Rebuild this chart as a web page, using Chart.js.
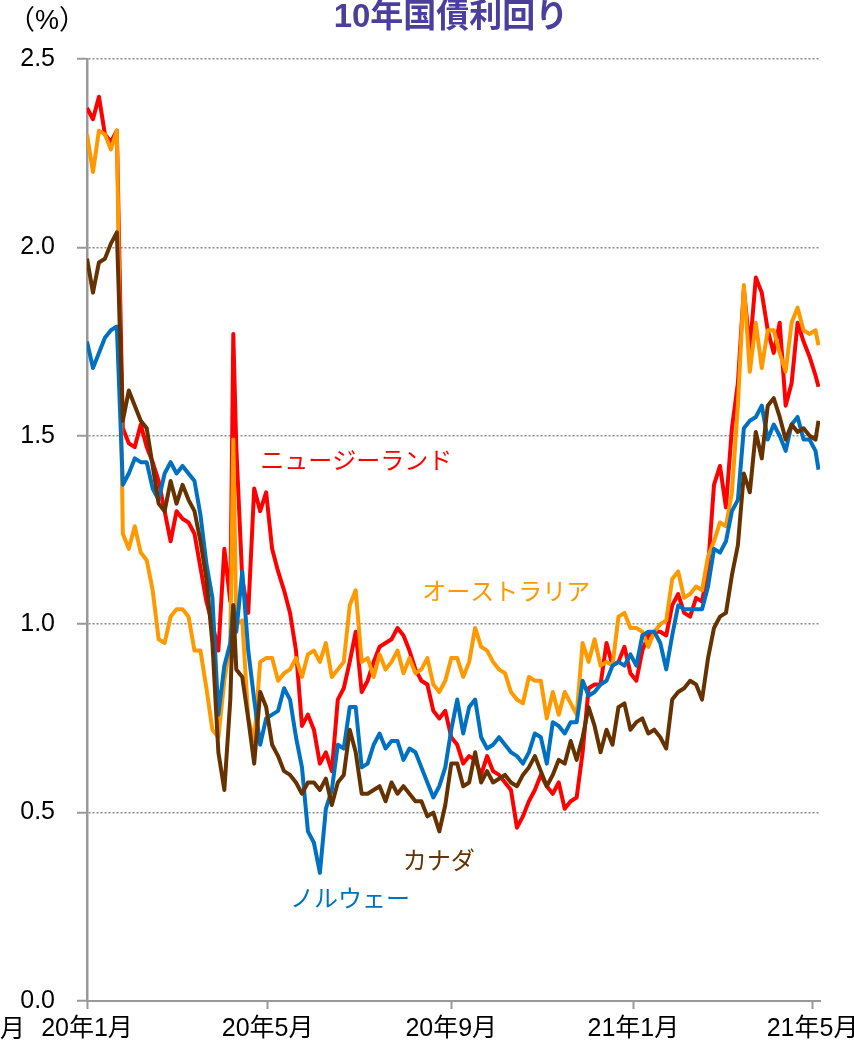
<!DOCTYPE html>
<html lang="ja">
<head>
  <meta charset="UTF-8">
  <title>10年国債利回り</title>
  <script src="https://cdn.jsdelivr.net/npm/chart.js@4.4.1/dist/chart.umd.min.js"></script>
  <style>
    body {
      margin: 0;
      padding: 0;
      background-color: #ffffff;
    }
    canvas {
      display: block;
    }
  </style>
</head>
<body>
  <canvas id="yieldChart" width="854" height="1047"></canvas>

  <script>
    // days counted from 2020-01-01
    const days = [
      0, 4, 8, 12, 16, 20, 24, 28, 32, 36,
      40, 44, 48, 52, 56, 60, 64, 68, 72, 76,
      80, 84, 88, 92, 96, 98, 100, 104, 108, 112,
      116, 120, 124, 128, 132, 136, 140, 144, 148, 152,
      156, 160, 164, 168, 172, 176, 180, 184, 188, 192,
      196, 200, 204, 208, 212, 216, 220, 224, 228, 232,
      236, 240, 244, 248, 252, 256, 260, 264, 268, 272,
      276, 280, 284, 288, 292, 296, 300, 304, 308, 312,
      316, 320, 324, 328, 332, 336, 340, 344, 348, 352,
      356, 360, 364, 368, 372, 376, 380, 384, 388, 392,
      396, 400, 404, 408, 412, 416, 420, 424, 428, 432,
      436, 440, 444, 448, 452, 456, 460, 464, 468, 472,
      476, 480, 484, 488, 490
    ];

    const newZealand = [
      2.37, 2.34, 2.40, 2.30, 2.28, 2.31, 1.52, 1.48, 1.47, 1.53,
      1.47, 1.43, 1.38, 1.30, 1.22, 1.30, 1.28, 1.27, 1.24, 1.15,
      1.06, 1.00, 0.93, 1.20, 1.06, 1.77, 1.47, 1.12, 1.03, 1.36,
      1.30, 1.35, 1.20, 1.14, 1.09, 1.03, 0.93, 0.73, 0.76, 0.72,
      0.63, 0.66, 0.61, 0.80, 0.83, 0.90, 0.98, 0.82, 0.85, 0.90,
      0.94, 0.95, 0.96, 0.99, 0.97, 0.93, 0.88, 0.85, 0.84, 0.77,
      0.75, 0.77, 0.70, 0.68, 0.63, 0.65, 0.64, 0.60, 0.65, 0.61,
      0.60, 0.58, 0.56, 0.46, 0.49, 0.53, 0.56, 0.60, 0.57, 0.55,
      0.58, 0.51, 0.53, 0.54, 0.66, 0.83, 0.84, 0.84, 0.95, 0.89,
      0.90, 0.94, 0.87, 0.85, 0.93, 0.97, 0.98, 0.98, 0.97, 1.05,
      1.08, 1.03, 1.02, 1.07, 1.06, 1.15, 1.37, 1.42, 1.31, 1.52,
      1.64, 1.89, 1.73, 1.92, 1.88, 1.78, 1.72, 1.80, 1.58, 1.64,
      1.80, 1.75, 1.71, 1.66, 1.63
    ];

    const australia = [
      2.30, 2.20, 2.31, 2.30, 2.26, 2.31, 1.24, 1.20, 1.26, 1.19,
      1.17, 1.09, 0.96, 0.95, 1.02, 1.04, 1.04, 1.02, 0.93, 0.93,
      0.83, 0.72, 0.70, 0.85, 0.95, 1.49, 1.00, 1.01, 0.75, 0.69,
      0.90, 0.91, 0.91, 0.85, 0.87, 0.88, 0.91, 0.86, 0.92, 0.93,
      0.90, 0.95, 0.86, 0.88, 0.90, 1.05, 1.09, 0.90, 0.91, 0.86,
      0.92, 0.88, 0.90, 0.93, 0.87, 0.91, 0.87, 0.88, 0.91, 0.84,
      0.82, 0.85, 0.91, 0.91, 0.86, 0.90, 0.99, 0.94, 0.93, 0.90,
      0.88, 0.87, 0.82, 0.80, 0.79, 0.86, 0.85, 0.85, 0.75, 0.82,
      0.76, 0.82, 0.79, 0.76, 0.95, 0.90, 0.96, 0.89, 0.90, 0.89,
      1.02, 1.03, 0.99, 0.99, 0.98, 0.94, 0.98, 1.00, 1.01, 1.12,
      1.14, 1.07, 1.08, 1.10, 1.09, 1.18, 1.22, 1.27, 1.26, 1.35,
      1.58, 1.90, 1.67, 1.80, 1.68, 1.78, 1.78, 1.72, 1.67, 1.80,
      1.84, 1.78, 1.77, 1.78, 1.74
    ];

    const norway = [
      1.75, 1.68, 1.72, 1.76, 1.78, 1.79, 1.37, 1.40, 1.44, 1.43,
      1.43, 1.36, 1.33, 1.40, 1.43, 1.40, 1.42, 1.40, 1.38, 1.29,
      1.16, 1.07, 0.76, 0.89, 0.95, 1.05, 0.98, 1.14, 0.93, 0.80,
      0.68, 0.75, 0.76, 0.77, 0.83, 0.80, 0.70, 0.62, 0.45, 0.42,
      0.34, 0.51, 0.56, 0.68, 0.67, 0.78, 0.78, 0.62, 0.63, 0.68,
      0.71, 0.67, 0.69, 0.69, 0.64, 0.67, 0.66, 0.62, 0.58, 0.54,
      0.57, 0.62, 0.72, 0.80, 0.71, 0.78, 0.80, 0.70, 0.67, 0.68,
      0.70, 0.68, 0.66, 0.65, 0.63, 0.66, 0.71, 0.70, 0.63, 0.74,
      0.73, 0.71, 0.74, 0.74, 0.85, 0.81, 0.82, 0.84, 0.85, 0.89,
      0.90, 0.89, 0.92, 0.89, 0.97, 0.98, 0.98, 0.95, 0.88, 0.97,
      1.05, 1.04, 1.04, 1.04, 1.04, 1.10, 1.20, 1.19, 1.22, 1.30,
      1.33, 1.52, 1.54, 1.55, 1.58, 1.49, 1.53, 1.50, 1.46, 1.53,
      1.55, 1.49, 1.49, 1.46, 1.41
    ];

    const canada = [
      1.97, 1.88, 1.96, 1.97, 2.01, 2.04, 1.54, 1.62, 1.58, 1.54,
      1.52, 1.42, 1.32, 1.30, 1.38, 1.32, 1.37, 1.33, 1.30, 1.22,
      1.12, 0.95, 0.66, 0.56, 0.80, 1.05, 0.88, 0.86, 0.75, 0.63,
      0.82, 0.78, 0.68, 0.65, 0.61, 0.60, 0.58, 0.55, 0.58, 0.58,
      0.56, 0.59, 0.52, 0.58, 0.60, 0.72, 0.66, 0.55, 0.55, 0.56,
      0.57, 0.53, 0.58, 0.55, 0.57, 0.55, 0.53, 0.53, 0.49, 0.50,
      0.45, 0.52, 0.63, 0.63, 0.57, 0.58, 0.66, 0.58, 0.61, 0.58,
      0.59, 0.60, 0.58, 0.57, 0.60, 0.62, 0.65, 0.61, 0.57, 0.60,
      0.64, 0.63, 0.69, 0.64, 0.70, 0.78, 0.73, 0.66, 0.72, 0.68,
      0.78, 0.79, 0.72, 0.74, 0.75, 0.71, 0.72, 0.70, 0.67, 0.80,
      0.82, 0.83, 0.85, 0.84, 0.80, 0.91, 0.99, 1.02, 1.03, 1.13,
      1.21, 1.40, 1.35, 1.51, 1.44, 1.58, 1.60, 1.55, 1.49, 1.53,
      1.51, 1.52, 1.50, 1.49, 1.54
    ];

    const tickDays = [0, 121, 244, 366, 486];
    const tickLabels = ['20年1月', '20年5月', '20年9月', '21年1月', '21年5月'];
    const seriesNames = ['ニュージーランド', 'オーストラリア', 'ノルウェー', 'カナダ'];

    const colors = ['#ff0000', '#ff9900', '#0070c0', '#663300'];
    const JP_FONT = '"Liberation Sans", "Noto Sans CJK JP", sans-serif';

    function points(values) {
      return values.map((v, i) => ({ x: days[i], y: v }));
    }

    // title, unit and the series names drawn inside the plot
    const textPlugin = {
      id: 'chartTexts',
      afterDraw(chart) {
        const { ctx, scales: { x, y } } = chart;
        ctx.save();
        ctx.textBaseline = 'middle';

        ctx.font = 'bold 33px ' + JP_FONT;
        ctx.fillStyle = '#4b3f9b';
        ctx.textAlign = 'center';
        ctx.fillText('10年国債利回り', 451, 18);

        ctx.font = '27px ' + JP_FONT;
        ctx.fillStyle = '#000000';
        ctx.fillText('（%）', 47, 22);

        ctx.textAlign = 'left';
        ctx.font = '25px ' + JP_FONT;
        ctx.fillText('月', 0, 1030);

        // [day, value] where each name starts
        const spots = [[116, 1.436], [224.5, 1.088], [136, 0.273], [211.5, 0.374]];
        ctx.font = '24px "Noto Sans CJK JP", sans-serif';
        seriesNames.forEach((name, i) => {
          ctx.fillStyle = colors[i];
          ctx.fillText(name, x.getPixelForValue(spots[i][0]), y.getPixelForValue(spots[i][1]));
        });
        ctx.restore();
      }
    };

    const ctx = document.getElementById('yieldChart').getContext('2d');
    const drawOrder = [3, 2, 1, 0];

    new Chart(ctx, {
      type: 'line',
      data: {
        datasets: [newZealand, australia, norway, canada].map((vals, i) => ({
          label: seriesNames[i],
          data: points(vals),
          borderColor: colors[i],
          borderWidth: 4,
          borderJoinStyle: 'round',
          pointRadius: 0,
          tension: 0,
          fill: false,
          order: drawOrder[i]
        }))
      },
      options: {
        responsive: false,
        animation: false,
        devicePixelRatio: 1,
        layout: { padding: { top: 59, right: 34, left: 0, bottom: 0 } },
        plugins: {
          legend: { display: false },
          tooltip: { enabled: false }
        },
        scales: {
          x: {
            type: 'linear',
            min: 0,
            max: 491,
            afterBuildTicks: (scale) => {
              scale.ticks = tickDays.map(v => ({ value: v }));
            },
            afterFit: (scale) => {
              scale.height = 46;
              scale.paddingLeft = 0;
              scale.paddingRight = 0;
            },
            ticks: {
              autoSkip: false,
              maxRotation: 0,
              padding: 5,
              color: '#000000',
              font: { family: JP_FONT, size: 25 },
              callback: (v) => tickLabels[tickDays.indexOf(v)]
            },
            grid: {
              drawOnChartArea: false,
              drawTicks: true,
              tickLength: 8,
              tickWidth: 2,
              tickColor: '#999999',
              color: '#999999'
            },
            border: { display: true, color: '#999999', width: 2 }
          },
          y: {
            min: 0,
            max: 2.5,
            afterFit: (scale) => {
              scale.width = 87;
              scale.paddingTop = 0;
              scale.paddingBottom = 0;
            },
            ticks: {
              stepSize: 0.5,
              padding: 22,
              color: '#000000',
              font: { family: '"Liberation Sans", sans-serif', size: 25 },
              callback: (v) => v.toFixed(1)
            },
            grid: {
              color: '#8c8c8c',
              lineWidth: 1.5,
              drawTicks: true,
              tickLength: 10,
              tickWidth: 2,
              tickColor: '#999999',
              tickBorderDash: []
            },
            border: { display: true, color: '#999999', width: 2.5, dash: [2, 2] }
          }
        }
      },
      plugins: [textPlugin]
    });
  </script>
</body>
</html>
